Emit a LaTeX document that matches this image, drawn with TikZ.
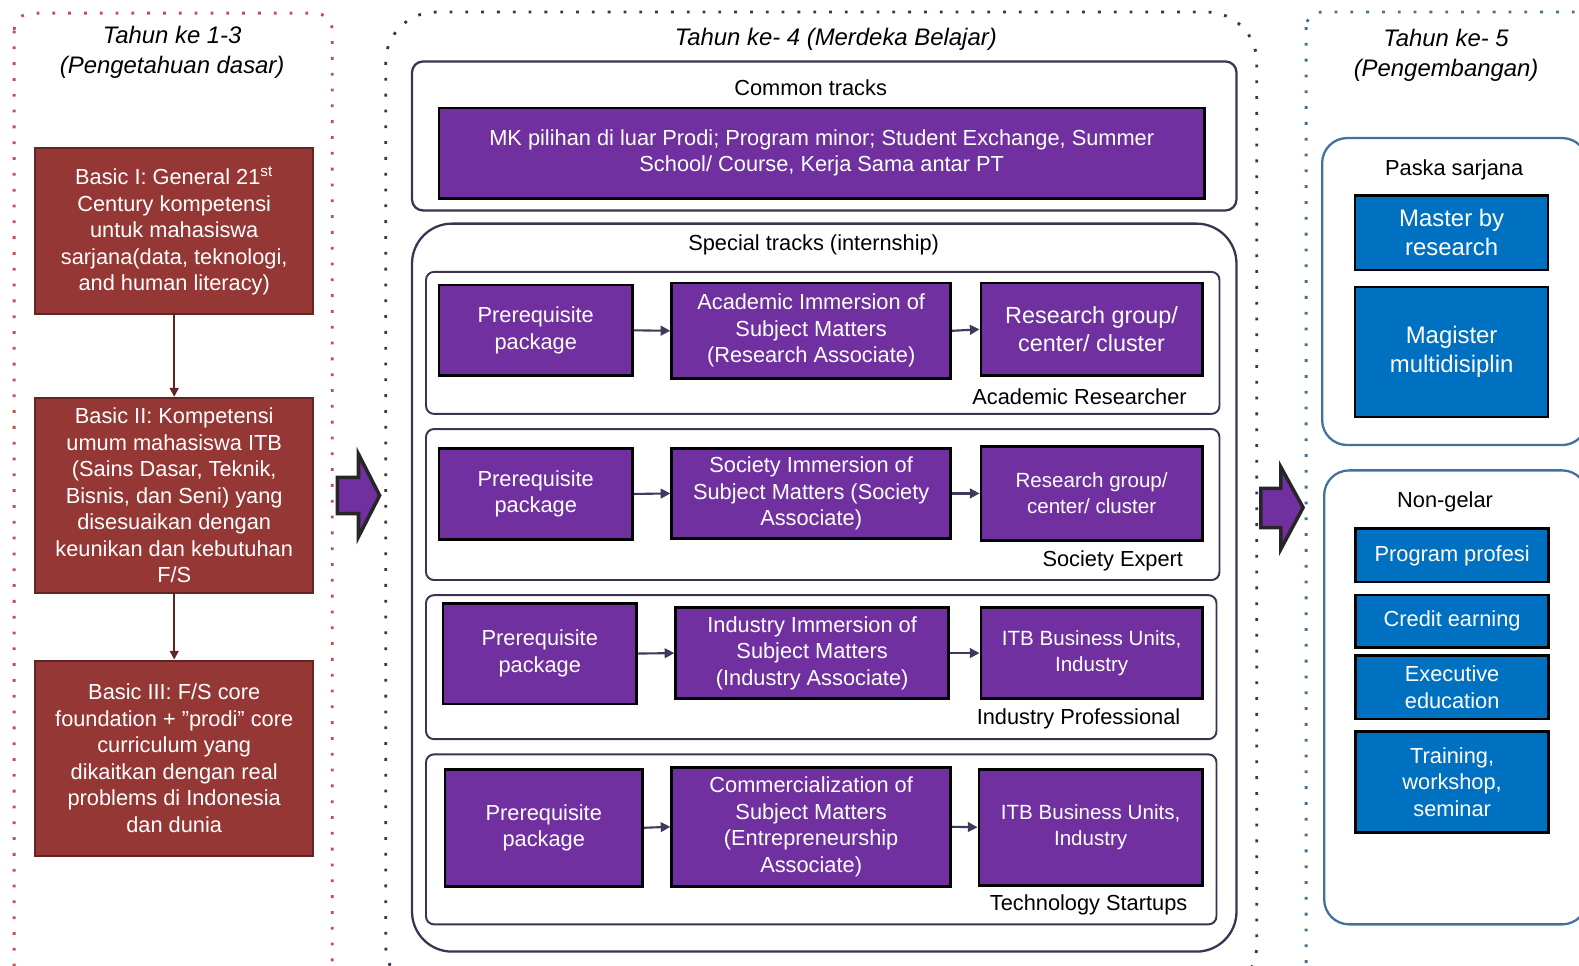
\documentclass[tikz,border=0pt]{standalone}
\usepackage{fontspec}
\setmainfont{Liberation Sans}
\usetikzlibrary{positioning, arrows.meta}
\definecolor{redF}{HTML}{953735}
\definecolor{redB}{HTML}{632523}
\definecolor{redDot}{HTML}{C0504D}
\definecolor{purF}{HTML}{7030A0}
\definecolor{purB}{HTML}{3F3151}
\definecolor{bluF}{HTML}{0070C0}
\definecolor{bluB}{HTML}{41719C}
\definecolor{arrG}{HTML}{403A5A}
\definecolor{blkArr}{HTML}{262626}
\newcommand{\mainfs}{\fontsize{12.4}{15.1}\selectfont}

\begin{document}
\begin{tikzpicture}[x=0.02014cm, y=-0.02014cm,
  redbox/.style={draw=redB, fill=redF, line width=1.1pt, text=white, align=center, font=\mainfs, minimum width=5.56cm, inner sep=1pt},
  trk/.style={draw=black, fill=purF, line width=1.5pt, text=white, align=center, font=\mainfs, inner sep=1pt},
  blu/.style={draw=black, fill=bluF, line width=1.5pt, text=white, align=center, font=\mainfs, minimum width=3.86cm, inner sep=1pt},
  rowbox/.style={draw=purB, line width=1.1pt, rounded corners=0.16cm, minimum width=15.87cm, inner sep=0pt},
  grpbox/.style={draw=purB, line width=1.3pt, inner sep=0pt},
  pgbox/.style={draw=bluB, line width=1.3pt, rounded corners=0.5cm, inner sep=0pt},
  lbl/.style={font=\mainfs, inner sep=0pt},
  ttl/.style={font=\fontsize{13.6}{16.6}\selectfont\itshape, align=center, inner sep=0pt},
  dotreg/.style={line width=1.6pt, dash pattern=on 1.6pt off 7.4pt},
  arrD/.style={draw=arrG, line width=1.2pt, -{Triangle[length=5.5pt, width=5.5pt]}},
  arrR/.style={draw=redB, line width=1.1pt, -{Triangle[length=5pt, width=5pt]}},
  bigarr/.style={fill=purF, draw=blkArr, line width=2pt, line join=miter}]
\useasboundingbox (0,0) rectangle (1568,959);
\clip (0,0) rectangle (1568,959);

% dotted year regions
\draw[dotreg, redDot, rounded corners=0.35cm] (14,13) rectangle (330,978);
\draw[dotreg, purB, rounded corners=1cm] (383,12) rectangle (1248,988);
\draw[dotreg, bluB, rounded corners=0.3cm] (1297,12) rectangle (1620,978);

\node[ttl] (t1) at (171,52) {Tahun ke 1-3\\(Pengetahuan dasar)};
\node[ttl] (t2) at (830,39) {Tahun ke- 4 (Merdeka Belajar)};
\node[ttl] (t3) at (1436,55) {Tahun ke- 5\\(Pengembangan)};

% year 1-3
\node[redbox, minimum height=3.32cm] (b1) at (173,229.5) {Basic I: General 21\textsuperscript{st}\\Century kompetensi\\untuk mahasiswa\\sarjana(data, teknologi,\\and human literacy)};
\node[redbox, minimum height=3.91cm] (b2) at (173,492) {Basic II: Kompetensi\\umum mahasiswa ITB\\(Sains Dasar, Teknik,\\Bisnis, dan Seni) yang\\disesuaikan dengan\\keunikan dan kebutuhan\\F/S};
\node[redbox, minimum height=3.91cm] (b3) at (173,753) {Basic III: F/S core\\foundation + ”prodi” core\\curriculum yang\\dikaitkan dengan real\\problems di Indonesia\\dan dunia};
\draw[arrR] (b1.south) -- (b2.north);
\draw[arrR] (b2.south) -- (b3.north);

% year 4
\node[grpbox, rounded corners=0.22cm, minimum width=16.49cm, minimum height=2.98cm] (common) at (818.5,135) {};
\node[lbl] (commonL) at (805,87) {Common tracks};
\node[trk, minimum width=15.31cm, minimum height=1.81cm] (mk) at (816,152) {MK pilihan di luar Prodi; Program minor; Student Exchange, Summer\\School/ Course, Kerja Sama antar PT};

\node[grpbox, rounded corners=0.8cm, minimum width=16.49cm, minimum height=14.56cm] (special) at (818.5,583.5) {};
\node[lbl] (specialL) at (808,243) {Special tracks (internship)};

\node[rowbox, minimum height=2.84cm] (r1) at (817,340.5) {};
\node[rowbox, minimum height=3.02cm] (r2) at (817,501) {};
\node[rowbox, minimum width=15.81cm, minimum height=2.88cm] (r3) at (815.5,662.5) {};
\node[rowbox, minimum width=15.81cm, minimum height=3.4cm] (r4) at (815.5,833.5) {};

\node[trk, minimum width=3.87cm, minimum height=1.81cm] (p1) at (532,328) {Prerequisite\\package};
\node[trk, minimum width=5.58cm, minimum height=1.91cm] (m1) at (805.5,328.5) {Academic Immersion of\\Subject Matters\\(Research Associate)};
\node[trk, minimum width=4.43cm, minimum height=1.85cm, font=\fontsize{13.3}{16.1}\selectfont] (e1) at (1084,327) {Research group/\\center/ cluster};
\node[lbl] (r1L) at (1072,394) {Academic Researcher};

\node[trk, minimum width=3.87cm, minimum height=1.83cm] (p2) at (532,490.5) {Prerequisite\\package};
\node[trk, minimum width=5.58cm, minimum height=1.81cm] (m2) at (805.5,490) {Society Immersion of\\Subject Matters (Society\\Associate)};
\node[trk, minimum width=4.43cm, minimum height=1.89cm, font=\fontsize{11.7}{14.6}\selectfont] (e2) at (1084,490) {Research group/\\center/ cluster};
\node[lbl] (r2L) at (1105,557) {Society Expert};

\node[trk, minimum width=3.87cm, minimum height=2.01cm] (p3) at (536,649) {Prerequisite\\package};
\node[trk, minimum width=5.46cm, minimum height=1.83cm] (m3) at (806.5,648.5) {Industry Immersion of\\Subject Matters\\(Industry Associate)};
\node[trk, minimum width=4.43cm, minimum height=1.83cm, font=\fontsize{11.7}{14.6}\selectfont] (e3) at (1084,648.5) {ITB Business Units,\\Industry};
\node[lbl] (r3L) at (1071,714) {Industry Professional};

\node[trk, minimum width=3.95cm, minimum height=2.34cm] (p4) at (540,822) {Prerequisite\\package};
\node[trk, minimum width=5.58cm, minimum height=2.38cm] (m4) at (805.5,821) {Commercialization of\\Subject Matters\\(Entrepreneurship\\Associate)};
\node[trk, minimum width=4.47cm, minimum height=2.32cm, font=\fontsize{11.7}{14.6}\selectfont] (e4) at (1083,821.5) {ITB Business Units,\\Industry};
\node[lbl] (r4L) at (1081,899) {Technology Startups};

\foreach \a/\b in {p1/m1, m1/e1, p2/m2, m2/e2, p3/m3, m3/e3, p4/m4, m4/e4}
  \draw[arrD] (\a.east) -- (\b.west);

% block arrows between years
\draw[bigarr] (335,474) -- (356,474) -- (356,451) -- (377,492) -- (356,533) -- (356,510) -- (335,510) -- cycle;
\draw[bigarr] (1252,485) -- (1272,485) -- (1272,464) -- (1294,504) -- (1272,545) -- (1272,524) -- (1252,524) -- cycle;

% year 5
\node[pgbox, minimum width=5.3cm, minimum height=6.14cm] (paska) at (1444.5,289.5) {};
\node[lbl] (paskaL) at (1444,169) {Paska sarjana};
\node[blu, minimum height=1.49cm, font=\fontsize{13.6}{16.6}\selectfont] (mbr) at (1441.5,231) {Master by\\research};
\node[blu, minimum height=2.6cm, font=\fontsize{13.6}{16.6}\selectfont] (mmd) at (1441.5,349.5) {Magister\\multidisiplin};

\node[pgbox, minimum width=5.26cm, minimum height=9.08cm] (nongelar) at (1445.5,692.5) {};
\node[lbl] (nongelarL) at (1435,498) {Non-gelar};
\node[blu, minimum height=1.07cm] (pp) at (1442,551.5) {Program profesi};
\node[blu, minimum height=1.05cm] (ce) at (1442,617) {Credit earning};
\node[blu, minimum height=1.27cm] (ee) at (1442,682.5) {Executive\\education};
\node[blu, minimum height=2.03cm] (tw) at (1442,776.5) {Training,\\workshop,\\seminar};
\end{tikzpicture}
\end{document}
